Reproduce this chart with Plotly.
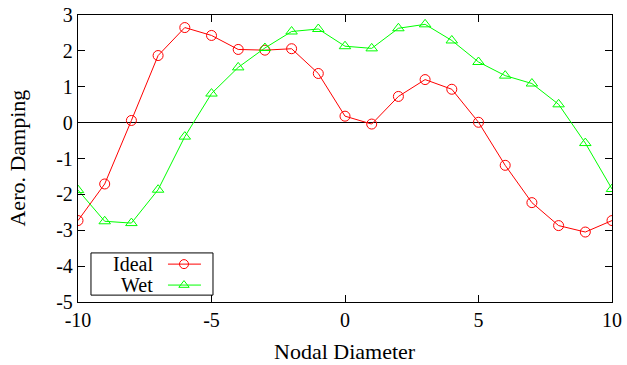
import plotly.graph_objects as go

nodal_diameter = list(range(-10, 11))
ideal = [-2.73, -1.71, 0.06, 1.87, 2.65, 2.43, 2.04, 2.02, 2.06, 1.37, 0.18,
         -0.04, 0.73, 1.20, 0.93, 0.01, -1.19, -2.23, -2.87, -3.05, -2.73]
wet = [-1.88, -2.75, -2.80, -1.87, -0.39, 0.81, 1.54, 2.08, 2.54, 2.61, 2.13,
       2.07, 2.63, 2.74, 2.29, 1.69, 1.31, 1.09, 0.51, -0.57, -1.85]
series_names = ["Ideal", "Wet"]
x_ticks = [-10, -5, 0, 5, 10]
y_ticks = [3, 2, 1, 0, -1, -2, -3, -4, -5]
x_title = "Nodal Diameter"
y_title = "Aero. Damping"

RED = "#ff0000"
GREEN = "#00ff00"
FONT = "Liberation Serif"

fig = go.Figure()
fig.add_trace(go.Scatter(x=nodal_diameter, y=ideal, mode="lines+markers", name=series_names[0],
                         line=dict(color=RED, width=1),
                         marker=dict(symbol="circle-open", size=10, color=RED, line=dict(width=1)),
                         showlegend=False))
fig.add_trace(go.Scatter(x=nodal_diameter, y=wet, mode="lines+markers", name=series_names[1],
                         line=dict(color=GREEN, width=1),
                         marker=dict(symbol="triangle-up-open", size=10, color=GREEN, line=dict(width=1)),
                         showlegend=False))

# Manual legend (text left, sample right) on overlay axes in paper-like units
leg_x = [0.1685, 0.1985, 0.2303]
for name, col, sym, yy in [(series_names[0], RED, "circle-open", 0.132),
                           (series_names[1], GREEN, "triangle-up-open", 0.059)]:
    fig.add_trace(go.Scatter(x=[leg_x[0], leg_x[2]], y=[yy, yy], mode="lines",
                             line=dict(color=col, width=1), xaxis="x2", yaxis="y2",
                             showlegend=False, hoverinfo="skip"))
    fig.add_trace(go.Scatter(x=[leg_x[1]], y=[yy], mode="markers",
                             marker=dict(symbol=sym, size=9, color=col, line=dict(width=1)),
                             xaxis="x2", yaxis="y2", showlegend=False, hoverinfo="skip"))
    fig.add_annotation(x=0.1443, y=yy, xref="paper", yref="paper", text=name, showarrow=False,
                       xanchor="right", yanchor="middle", font=dict(family=FONT, size=20, color="black"))

fig.add_shape(type="rect", xref="paper", yref="paper", x0=0.0243, x1=0.2528, y0=0.024, y1=0.171,
              line=dict(color="black", width=1), fillcolor="white", layer="below")

# Axis titles
fig.add_annotation(x=0.5, y=-0.174, xref="paper", yref="paper", text=x_title, showarrow=False,
                   xanchor="center", yanchor="middle", font=dict(family=FONT, size=22, color="black"))
fig.add_annotation(x=-0.1142, y=0.5, xref="paper", yref="paper", text=y_title, showarrow=False,
                   textangle=-90, xanchor="center", yanchor="middle",
                   font=dict(family=FONT, size=22, color="black"))

axis_common = dict(showgrid=False, showline=True, linecolor="black", linewidth=1.3,
                   mirror="allticks", ticks="inside", ticklen=7, tickcolor="black",
                   automargin=False,
                   tickfont=dict(family=FONT, size=20, color="black"))

fig.update_layout(
    width=627, height=365,
    margin=dict(l=78, r=15, t=15, b=63, autoexpand=False),
    paper_bgcolor="white", plot_bgcolor="white",
    font=dict(family=FONT, size=20, color="black"),
    xaxis=dict(range=[-10, 10], tickvals=x_ticks, ticktext=[str(v) for v in x_ticks],
               zeroline=False, **axis_common),
    yaxis=dict(range=[-5, 3], tickvals=y_ticks, ticktext=[str(v) for v in y_ticks],
               zeroline=True, zerolinecolor="black", zerolinewidth=1, **axis_common),
    xaxis2=dict(overlaying="x", range=[0, 1], visible=False),
    yaxis2=dict(overlaying="y", range=[0, 1], visible=False),
    showlegend=False,
)

fig.write_html("out.html", config={"displayModeBar": False},
               post_script="document.body.style.margin='0';")
